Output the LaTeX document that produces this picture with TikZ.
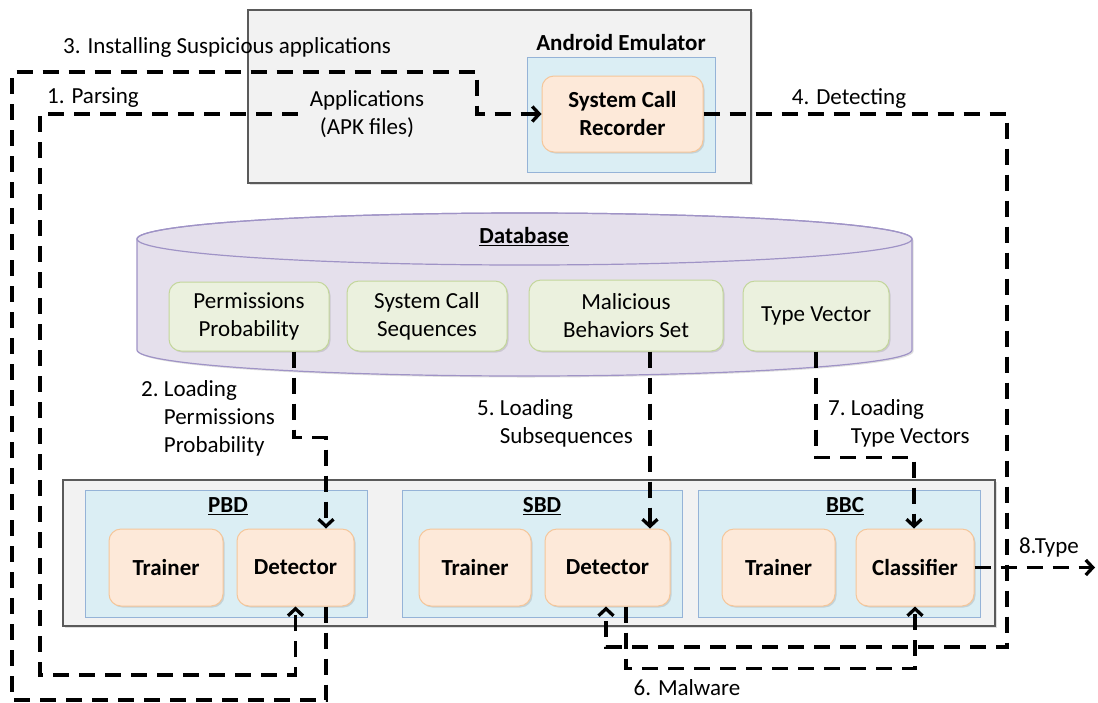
\documentclass[tikz,border=0pt]{standalone}
\usepackage{fontspec}
\setmainfont{Carlito}
\usetikzlibrary{arrows.meta,shadows}
\definecolor{grayfill}{HTML}{F2F2F2}
\definecolor{grayline}{HTML}{5A5A5A}
\definecolor{bluefill}{HTML}{DBEEF4}
\definecolor{blueline}{HTML}{95B3D7}
\definecolor{orangefill}{HTML}{FDE9D9}
\definecolor{orangeline}{HTML}{F5C69A}
\definecolor{greenfill}{HTML}{EBF1DE}
\definecolor{greenline}{HTML}{C3D69B}
\definecolor{dbfill}{HTML}{E5E0EC}
\definecolor{dbline}{HTML}{9F93C6}
\begin{document}
\begin{tikzpicture}[x=1pt,y=-1pt,
  every node/.style={font=\fontsize{23}{28}\selectfont},
  graybox/.style={draw=grayline, fill=grayfill, line width=1.2pt, inner sep=0pt, drop shadow={opacity=0.25, shadow xshift=1.5pt, shadow yshift=-1.5pt}},
  bluebox/.style={draw=blueline, fill=bluefill, line width=1pt, inner sep=0pt, drop shadow={opacity=0.2, shadow xshift=1.2pt, shadow yshift=-1.2pt}},
  orangebox/.style={draw=orangeline, fill=orangefill, line width=1pt, rounded corners=12pt, align=center, inner sep=0pt,
    font=\fontsize{23}{28}\selectfont\bfseries, drop shadow={opacity=0.25, shadow xshift=1.5pt, shadow yshift=-1.5pt}},
  greenbox/.style={draw=greenline, fill=greenfill, line width=1pt, rounded corners=12pt, align=center, inner sep=0pt,
    drop shadow={opacity=0.25, shadow xshift=1.5pt, shadow yshift=-1.5pt}},
  title/.style={font=\fontsize{23}{28}\selectfont\bfseries, inner sep=0pt},
  lbl/.style={inner sep=0pt, align=left},
  flow/.style={line width=3.3pt, dash pattern=on 16pt off 10pt},
  arr/.style={flow, -{Straight Barb[length=7pt,width=15pt]}}
]
\useasboundingbox (0,0) rectangle (1098,702);

% Android emulator
\node[graybox, minimum width=503pt, minimum height=173pt] (emu) at (499.5,96.5) {};
\node[title] (emutitle) at (621,43) {Android Emulator};
\node[bluebox, minimum width=188pt, minimum height=115pt] (emublue) at (621,114.5) {};
\node[orangebox, minimum width=161pt, minimum height=76pt] (scr) at (622.5,114) {System Call\\Recorder};
\node[lbl, align=center] (apps) at (367,114) {Applications\\(APK files)};

% Database cylinder
\path[fill=dbfill, draw=dbline, line width=1.2pt, drop shadow={opacity=0.25, shadow xshift=1.5pt, shadow yshift=-1.5pt}]
  (137,239) -- (137,350) arc[start angle=180, end angle=0, x radius=387.5, y radius=26]
  -- (912,239) arc[start angle=0, end angle=-180, x radius=387.5, y radius=26] -- cycle;
\draw[dbline, line width=1.2pt] (524.5,239) ellipse[x radius=387.5, y radius=26];
\node[title] (dbtitle) at (524,237) {\underline{Database}};
\node[greenbox, minimum width=160pt, minimum height=69pt] (pp) at (249,316.5) {Permissions\\Probability};
\node[greenbox, minimum width=160pt, minimum height=70pt] (scs) at (427,316) {System Call\\Sequences};
\node[greenbox, minimum width=194pt, minimum height=71pt] (mbs) at (626,315.5) {Malicious\\Behaviors Set};
\node[greenbox, minimum width=146pt, minimum height=70pt] (tv) at (816,316) {Type Vector};

% Bottom modules
\node[graybox, minimum width=932pt, minimum height=146pt] (mods) at (529,553) {};
\node[bluebox, minimum width=282pt, minimum height=127pt] (pbd) at (226,553.5) {};
\node[bluebox, minimum width=280pt, minimum height=127pt] (sbd) at (542,553.5) {};
\node[bluebox, minimum width=282pt, minimum height=127pt] (bbc) at (839,553.5) {};
\node[title] (pbdt) at (228,506) {\underline{PBD}};
\node[title] (sbdt) at (542,506) {\underline{SBD}};
\node[title] (bbct) at (845,506) {\underline{BBC}};
\node[orangebox, minimum width=114pt, minimum height=77pt] (pbdtr) at (166,567.5) {Trainer};
\node[orangebox, minimum width=117pt, minimum height=77pt] (pbddet) at (295.5,567.5) {Detector};
\node[orangebox, minimum width=112pt, minimum height=77pt] (sbdtr) at (475,567.5) {Trainer};
\node[orangebox, minimum width=125pt, minimum height=77pt] (sbddet) at (607.5,567.5) {Detector};
\node[orangebox, minimum width=113pt, minimum height=77pt] (bbctr) at (778.5,567.5) {Trainer};
\node[orangebox, minimum width=118pt, minimum height=77pt] (cls) at (915,567.5) {Classifier};

% Labels
\node[lbl, anchor=west] (l3) at (63,47) {3. Installing Suspicious applications};
\node[lbl, anchor=west] (l1) at (47,98) {1. Parsing};
\node[lbl] (l4) at (849,99) {4. Detecting};
\node[lbl, anchor=west] (l2) at (141,418.5) {2.~Loading\\\phantom{2.~}Permissions\\\phantom{2.~}Probability};
\node[lbl, anchor=west] (l5) at (477,423.5) {5.~Loading\\\phantom{5.~}Subsequences};
\node[lbl, anchor=west] (l7) at (828,423.5) {7.~Loading\\\phantom{7.~}Type Vectors};
\node[lbl] (l6) at (687,688) {6. Malware};
\node[lbl] (l8) at (1049,547) {8.Type};

% Connectors
\coordinate (typeend) at (1095,567.5);
\draw[arr] ([xshift=-12pt]apps.west) -- (40,114) -- (40,675) -| (pbddet.south);
\draw[arr] ([xshift=45pt]pp.south) -- ++(0,86) -| ([xshift=30.5pt]pbddet.north);
\draw[arr] ([xshift=30.5pt]pbddet.south) -- (326,700) -- (12,700) -- (12,72) -- (477,72) |- (scr.west);
\draw[arr] (scr.east) -- (1007,114) -- (1007,647) -| ([xshift=-1.5pt]sbddet.south);
\draw[arr] ([xshift=24pt]mbs.south) -- ([xshift=42.5pt]sbddet.north);
\draw[arr] ([xshift=18.5pt]sbddet.south) -- ++(0,62) -| (cls.south);
\draw[arr] (tv.south) -- ++(0,106) -| ([xshift=-1pt]cls.north);
\draw[arr] (cls.east) -- (typeend);
\end{tikzpicture}
\end{document}
